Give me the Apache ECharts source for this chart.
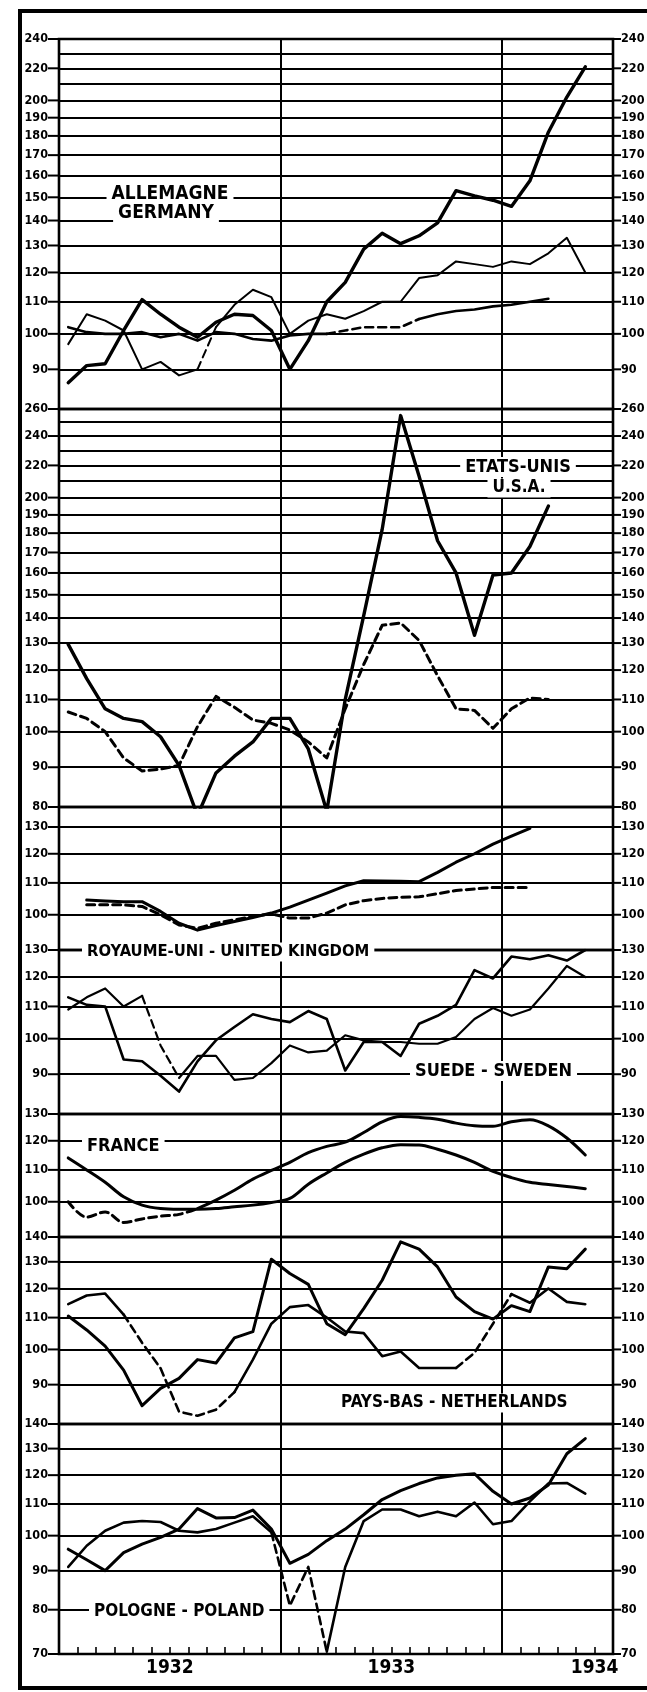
<!DOCTYPE html>
<html><head><meta charset="utf-8">
<script src="https://cdn.jsdelivr.net/npm/echarts@6/dist/echarts.min.js"></script>
<style>html,body{margin:0;padding:0;background:#fff}#c{width:647px;height:1692px}</style>
</head><body><div id="c"></div>
<script>
// ---- month index: 0 = Jan 1932 ... 28 = May 1934 (points plotted mid-month)
const monthIndex = [0,1,2,3,4,5,6,7,8,9,10,11,12,13,14,15,16,17,18,19,20,21,22,23,24,25,26,27,28];
const yearLabels = ['1932','1933','1934'];
const yearLabelMonths = [6,18,29];

// ---- Germany
const gerA = [86.5,91,91.5,101,110.7,106,102,99,103.5,106,105.6,101,90,98,110,116.5,128.6,134.8,130.7,133.8,139,153,150.6,148.7,146,157.5,182,202,221];
const gerB = [97,106,104,101,90,92,88.4,90,102,109,114,111.5,100,104,106,104.6,107,110,110,118,119,124,123,122,124,123,127,133,120];
const gerC = [102,100.5,100,100,100.5,99,100,98,100.5,100,98.5,98,99.5,100,100,101,102,102,102,104.5,106,107,107.5,108.5,109,110,111,null,null];
// ---- U.S.A.
const usA = [129.5,117,107,104,103,98.5,90.5,78,88.5,93,97,104,104,95,79,110,141,182,255,213,176,160,133,159,160,173,195,null,null];
const usB = [106,104,100,92.5,89,89.5,90.5,101.5,111,107.5,103.5,102.5,100.5,97,92.5,107,122,137,138,131,118,107,106.5,101,107,110.5,110,null,null];
// ---- United Kingdom
const ukA = [null,104.5,104.2,104,104,101,97.5,95.5,96.8,98,99.2,100.5,102.3,104.5,106.7,109,110.7,110.6,110.5,110.4,113.5,117,120,123.5,126.5,129.5,null,null,null];
const ukB = [null,103,103,103,102.5,100,97,96,97.5,98.5,99.5,100.3,99,99,100.5,103,104.3,105,105.4,105.5,106.5,107.5,108,108.5,108.5,108.5,null,null,null];
// ---- Sweden
const sweA = [113,110.5,110,94,93.5,89.6,85.5,93.5,99.5,103.5,107.5,106,105,108.5,106,91,99,99,95,104.5,107,110.5,122.5,119.5,127.5,126.5,128,126,130];
const sweB = [109,113,116,110,113.5,98,89,95,95,88.5,89,93,98,96,96.5,101,99.5,99,99,98.5,98.5,100.5,106,109.5,107,109,116,124,120];
// ---- France
const fraA = [114,110,106,101.5,99,98,97.8,97.8,98,98.5,99,99.8,101,105.4,109,112.5,115.3,117.5,118.6,118.5,117,115,112.5,109.5,107.5,106,105.3,104.7,104];
const fraB = [100,95.5,97,94,95,95.8,96.3,98,100.5,103.5,107,109.8,112.5,115.8,118,119.5,123,127,129,128.7,128,126.5,125.5,125.3,127,127.8,125.5,121,115];
// ---- Netherlands
const nlA = [110.5,106,101,94,84.5,89,91.7,97,96,103.5,105.5,131,125.5,121.5,108,104.5,113,123,138,135,128,117,112,109.5,114,112,128,127.3,135];
const nlB = [114.5,117.5,118.2,111,102,94.5,83,82,83.5,88,97,108,113.5,114.2,110,105.5,105,98,99.4,94.6,94.6,94.6,99,108,118,115,120,115.3,114.5];
// ---- Poland
const plA = [96,93,90,95,97.5,99.5,102,108.5,105.5,105.6,108,102,92,94.5,98.5,102,106.5,111.5,114.5,117,119,120,120.5,114.3,110,112,116.5,128,134];
const plB = [91,97,101.5,104,104.5,104.2,101.5,101,102,104,106,101,81,91,70.5,91,104.5,108.2,108.2,106,107.5,106,110.5,103.5,104.5,110.9,117,117.2,113.5];

// ---- tick labels (left and right) and unlabelled grid lines per panel
const tickDE = [240,220,200,190,180,170,160,150,140,130,120,110,100,90];
const plainDE = [230,210];
const tickUS = [260,240,220,200,190,180,170,160,150,140,130,120,110,100,90,80];
const plainUS = [250,230,210];
const tickUK = [130,120,110,100];
const tickSE = [130,120,110,100,90];
const tickFR = [130,120,110,100];
const tickNL = [140,130,120,110,100,90];
const tickPL = [140,130,120,110,100,90,80,70];

// ---- layout
const panels = [
  {top:39,   bottom:409,  min:80, max:240, ticks:tickDE, plain:plainDE},
  {top:409,  bottom:807,  min:80, max:260, ticks:tickUS, plain:plainUS},
  {top:807,  bottom:950,  min:90, max:138, ticks:tickUK, plain:[]},
  {top:950,  bottom:1114, min:80, max:130, ticks:tickSE, plain:[]},
  {top:1114, bottom:1237, min:90, max:130, ticks:tickFR, plain:[]},
  {top:1237, bottom:1424, min:80, max:140, ticks:tickNL, plain:[]},
  {top:1424, bottom:1654, min:70, max:140, ticks:tickPL, plain:[]}
];
const seriesDefs = [
  {panel:0, values:gerA, width:3.4},
  {panel:0, values:gerB, width:2, dashed:[[7,8]]},
  {panel:0, values:gerC, width:2.6, dashed:[[14,19]]},
  {panel:1, values:usA, width:3.4},
  {panel:1, values:usB, width:3, dashed:[[0,26]]},
  {panel:2, values:ukA, width:3},
  {panel:2, values:ukB, width:3, dashed:[[1,25]]},
  {panel:3, values:sweA, width:2.6},
  {panel:3, values:sweB, width:2.2, dashed:[[4,6]]},
  {panel:4, values:fraA, width:3, smooth:0.35},
  {panel:4, values:fraB, width:3, smooth:0.35, dashed:[[0,7]]},
  {panel:5, values:nlA, width:3},
  {panel:5, values:nlB, width:2.6, dashed:[[3,9],[21,24]]},
  {panel:6, values:plA, width:3},
  {panel:6, values:plB, width:2.6, dashed:[[11,14]]}
];
const countryLabels = [
  {text:'ALLEMAGNE', x:170, y:194, size:19, align:'center'},
  {text:'GERMANY', x:166, y:213, size:19, align:'center'},
  {text:'ETATS-UNIS', x:518, y:467, size:18, align:'center'},
  {text:'U.S.A.', x:519, y:488, size:17, align:'center'},
  {text:'ROYAUME-UNI - UNITED KINGDOM', x:82, y:952, size:16.5, align:'left'},
  {text:'SUEDE - SWEDEN', x:410, y:1071, size:18, align:'left'},
  {text:'FRANCE', x:82, y:1146, size:18, align:'left'},
  {text:'PAYS-BAS - NETHERLANDS', x:336, y:1403, size:17, align:'left'},
  {text:'POLOGNE - POLAND', x:89, y:1612, size:17, align:'left'}
];

const FONT = "'DejaVu Sans Condensed','Liberation Sans Narrow','DejaVu Sans',sans-serif";
const GRID_LEFT = 59, GRID_RIGHT_EDGE = 613, W = 647;

function pairs(vals, from, to) {
  return monthIndex.map(i => [i + 0.5, (i >= from && i <= to && vals[i] != null) ? vals[i] : null]);
}
function pieces(vals, dashed) {
  let s = vals.findIndex(v => v != null);
  let e = vals.length - 1; while (vals[e] == null) e--;
  const out = []; let cur = s;
  (dashed || []).slice().sort((a,b)=>a[0]-b[0]).forEach(([a,b]) => {
    a = Math.max(a, s); b = Math.min(b, e);
    if (a > cur) out.push({from:cur, to:a, dash:false});
    out.push({from:Math.max(a,cur), to:b, dash:true});
    cur = b;
  });
  if (cur < e) out.push({from:cur, to:e, dash:false});
  return out;
}

const richL = {
  v:{fontSize:12.5, fontWeight:'bold', fontFamily:FONT, color:'#000'},
  d:{width:11, height:2, backgroundColor:'#000'}
};
const richR = {
  v:{fontSize:12.5, fontWeight:'bold', fontFamily:FONT, color:'#000'},
  d:{width:8, height:2, backgroundColor:'#000'}
};
const series = [];
// grid-line / label holder series per panel
panels.forEach((p, i) => {
  const base = seriesDefs.find(d => d.panel === i).values;
  const lines = p.ticks.map(v => ({yAxis:v}))
    .concat(p.plain.map(v => ({yAxis:v, label:{show:false}})))
    .concat([{xAxis:12, label:{show:false}}, {xAxis:24, label:{show:false}}]);
  series.push({
    type:'line', xAxisIndex:i, yAxisIndex:i, data:pairs(base,0,99), symbol:'none', silent:true,
    lineStyle:{color:'rgba(0,0,0,0)'}, z:1,
    markLine:{silent:true, symbol:'none', animation:false,
      lineStyle:{color:'#000', width:2, type:'solid'},
      label:{show:true, position:'start', distance:0, formatter:q => '{v|' + q.value + '}{d|}', rich:richL},
      data:lines}
  });
  series.push({
    type:'line', xAxisIndex:i, yAxisIndex:i, data:pairs(base,0,99), symbol:'none', silent:true,
    lineStyle:{color:'rgba(0,0,0,0)'}, z:1,
    markLine:{silent:true, symbol:'none', animation:false,
      lineStyle:{color:'rgba(0,0,0,0)', width:1, type:'solid'},
      label:{show:true, position:'end', distance:0, color:'#000', formatter:q => '{d|}{v|' + q.value + '}', rich:richR},
      data:p.ticks.map(v => ({yAxis:v}))}
  });
});
seriesDefs.forEach(d => {
  pieces(d.values, d.dashed).forEach(pc => {
    series.push({
      type:'line', xAxisIndex:d.panel, yAxisIndex:d.panel, data:pairs(d.values, pc.from, pc.to),
      symbol:'none', smooth:d.smooth || false, silent:true, z:3,
      lineStyle:{color:'#000', width:d.width, type: pc.dash ? [8,5] : 'solid', cap:'round', join:'round'}
    });
  });
});

const option = {
  animation:false,
  backgroundColor:'#fff',
  grid: panels.map(p => ({left:GRID_LEFT, width:GRID_RIGHT_EDGE-GRID_LEFT, top:p.top, height:p.bottom-p.top,
    show:true, borderColor:'#000', borderWidth:2.6, backgroundColor:'transparent'})),
  xAxis: panels.map((p,i) => ({
    gridIndex:i, type:'value', min:0, max:30, interval:1, show:i===6,
    axisLine:{show:false}, splitLine:{show:false},
    axisTick:{show:i===6, inside:true, length:7, lineStyle:{color:'#000', width:1.6}},
    axisLabel:{show:i===6, margin:5, color:'#000', fontSize:19, fontWeight:'bold', fontFamily:FONT,
      formatter:v => { const k = yearLabelMonths.indexOf(v); return k >= 0 ? yearLabels[k] : ''; }}
  })),
  yAxis: panels.map((p,i) => ({gridIndex:i, type:'log', min:p.min, max:p.max, show:false})),
  series: series,
  graphic: [
    {type:'polyline', silent:true, z:10, shape:{points:[[W+4,11],[20,11],[20,1688],[W+4,1688]]},
      style:{stroke:'#000', lineWidth:4, fill:null}}
  ].concat(countryLabels.map(t => ({
    type:'text', silent:true, z:20, x:t.x, y:t.y,
    style:{text:t.text, fill:'#000', font:'bold ' + t.size + 'px ' + FONT, textAlign:t.align, textVerticalAlign:'middle',
      backgroundColor:'#fff', padding:[1,5]}
  })))
};
const chart = echarts.init(document.getElementById('c'), null, {renderer:'canvas'});
chart.setOption(option);
</script></body></html>
